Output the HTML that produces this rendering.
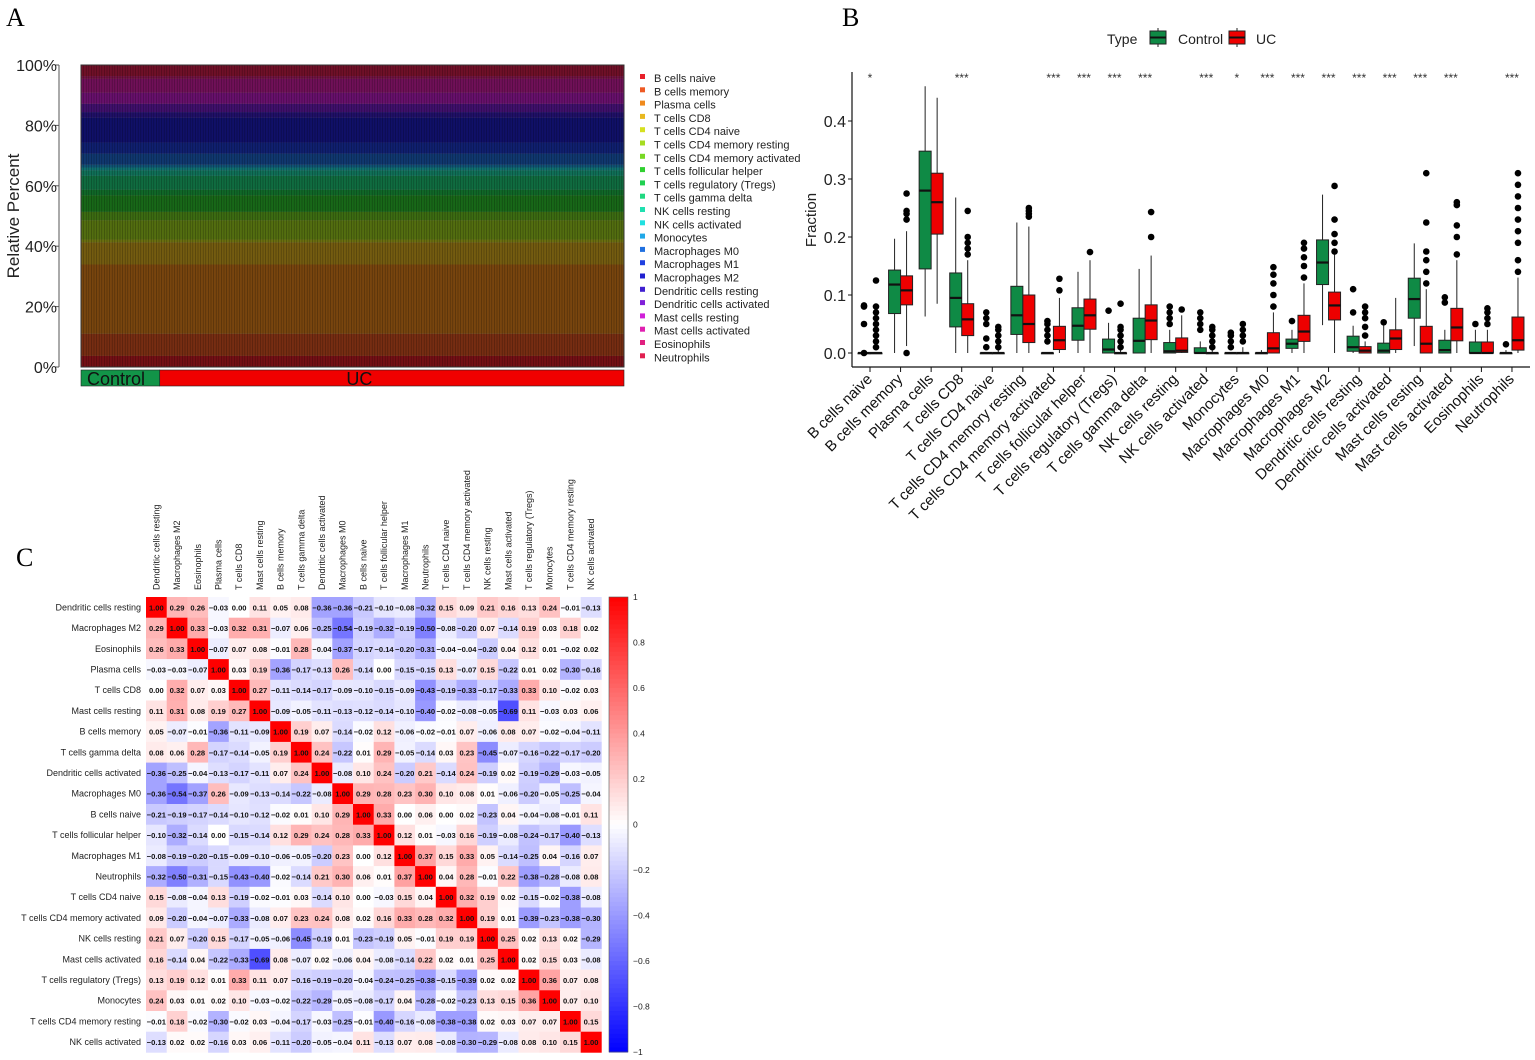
<!DOCTYPE html>
<html><head><meta charset="utf-8"><style>
html,body{margin:0;padding:0;background:#fff;}
svg{display:block;font-family:"Liberation Sans",Arial,sans-serif;}
</style></head><body>
<svg id="fig" width="1535" height="1060" viewBox="0 0 1535 1060" xmlns="http://www.w3.org/2000/svg">
<text x="6" y="26" font-family="Liberation Serif,serif" font-size="26">A</text>
<text x="842" y="26" font-family="Liberation Serif,serif" font-size="26">B</text>
<text x="16" y="566" font-family="Liberation Serif,serif" font-size="26">C</text>
<g id="pa"></g>
<g id="pb"></g>
<g id="pc"></g>
</svg>
<script>
const NS="http://www.w3.org/2000/svg";
function mk(p,tag,at,txt){const e=document.createElementNS(NS,tag);for(const k in at)e.setAttribute(k,at[k]);if(txt!==undefined)e.textContent=txt;p.appendChild(e);return e;}

// ---------- Panel A data ----------
const cellTypes=["B cells naive","B cells memory","Plasma cells","T cells CD8","T cells CD4 naive","T cells CD4 memory resting","T cells CD4 memory activated","T cells follicular helper","T cells regulatory (Tregs)","T cells gamma delta","NK cells resting","NK cells activated","Monocytes","Macrophages M0","Macrophages M1","Macrophages M2","Dendritic cells resting","Dendritic cells activated","Mast cells resting","Mast cells activated","Eosinophils","Neutrophils"];
const cellColors=["#e8202a","#ee5a24","#f08a1c","#e8b820","#d6e020","#a6dc20","#78d824","#30d030","#20d050","#20d880","#20e0b0","#20e0e0","#20a8e8","#2070e0","#2040e0","#2020d0","#4020d0","#8020d8","#d020d8","#e020b0","#e02080","#e02050"];
const meanComposition=[0.04,0.08,0.25,0.08,0.01,0.07,0.03,0.06,0.02,0.05,0.02,0.01,0.01,0.04,0.04,0.09,0.02,0.03,0.04,0.05,0.01,0.04];
const aTicks=["0%","20%","40%","60%","80%","100%"];
const groupLabels=["Control","UC"];
const groupShare=[0.145,0.855];

(function(){
 const g=document.getElementById('pa');
 const x0=81,x1=624,yT=65,yB=367;
 const ya=v=>yB-(yB-yT)*v;
 const tot=meanComposition.reduce((a,b)=>a+b,0);
 let cum=0;
 meanComposition.forEach((v,i)=>{
  const f=v/tot;
  const r=mk(g,'rect',{x:x0,y:ya(cum+f),width:x1-x0,height:ya(cum)-ya(cum+f),fill:cellColors[i]});
  
  
  cum+=f;
 });
 mk(g,'rect',{x:x0,y:yT,width:x1-x0,height:yB-yT,fill:'#000','fill-opacity':0.5});
 // bar edge texture
 let d='';for(let x=x0;x<x1;x+=2.6){d+=`M${x.toFixed(1)} ${yT}V${yB}`;}
 mk(g,'path',{d:d,stroke:'#000','stroke-width':0.6,'stroke-opacity':0.35});
 mk(g,'rect',{x:x0,y:yT,width:x1-x0,height:yB-yT,fill:'none',stroke:'#333','stroke-width':1});
 mk(g,'line',{x1:59,y1:yT,x2:59,y2:yB,stroke:'#555','stroke-width':1});
 aTicks.forEach((t,i)=>{const y=ya(i/5);
  mk(g,'line',{x1:55,y1:y,x2:59,y2:y,stroke:'#555'});
  const e=mk(g,'text',{x:57,y:y+6,'text-anchor':'end','font-size':16,fill:'#222'},t);
  });
 const yt=mk(g,'text',{x:0,y:0,transform:'translate(19,216) rotate(-90)','text-anchor':'middle','font-size':17,fill:'#222'},'Relative Percent');
 
 let gx=x0;
 groupLabels.forEach((lab,i)=>{const w=(x1-x0)*groupShare[i];
  const r=mk(g,'rect',{x:gx,y:370,width:w,height:16,fill:i?'#f00000':'#129448',stroke:'#222','stroke-width':0.6});
  
  const t=mk(g,'text',{x:i?gx+w*0.43:gx+6,y:385,'font-size':18,fill:'#111','text-anchor':i?'middle':'start'},lab);
  
  gx+=w;});
 cellTypes.forEach((c,i)=>{const y=78+i*13.3;
  const le=mk(g,'g',{});
  
  mk(le,'rect',{x:640,y:y-4,width:5,height:5,fill:cellColors[i]});
  mk(le,'text',{x:654,y:y+4,'font-size':11,fill:'#222'},c);});
})();

// ---------- Panel B data ----------
const bCats=cellTypes;
const ctrlQ1=[0,0.068,0.145,0.045,0,0.032,0,0.022,0,0,0,0,0,0,0.008,0.118,0.003,0,0.06,0,0,0];
const ctrlMed=[0,0.118,0.28,0.095,0,0.065,0,0.047,0.006,0.021,0.003,0,0,0,0.016,0.156,0.01,0.004,0.093,0.005,0,0];
const ctrlQ3=[0,0.143,0.348,0.138,0,0.115,0,0.078,0.024,0.06,0.018,0.009,0,0,0.024,0.195,0.029,0.017,0.129,0.022,0.019,0];
const ctrlLo=[0,0,0.063,0,0,0,0,0,0,0,0,0,0,0,0,0.048,0,0,0.012,0,0,0];
const ctrlHi=[0,0.197,0.46,0.268,0,0.225,0,0.14,0.052,0.145,0.04,0.02,0,0.005,0.04,0.273,0.047,0.05,0.189,0.04,0.04,0.005];
const ctrlOut=[[0.08,0.082,0.05,0],[],[],[],[0.07,0.06,0.05,0.025,0.01],[],[0.02,0.03,0.04,0.05,0.055],[],[0.073],[],[0.05,0.06,0.07,0.08],[0.04,0.05,0.06,0.07],[0.01,0.02,0.03,0.035],[],[0.055],[],[0.07,0.11],[0.053],[],[0.087,0.096],[0.05],[0.015]];
const ucQ1=[0,0.083,0.205,0.03,0,0.018,0.006,0.041,0,0.023,0.001,0,0,0,0.02,0.057,0,0.006,0,0.021,0,0.005];
const ucMed=[0,0.108,0.26,0.058,0,0.05,0.022,0.065,0,0.056,0.004,0,0,0.008,0.037,0.082,0.004,0.025,0.016,0.044,0,0.022];
const ucQ3=[0,0.133,0.31,0.085,0,0.1,0.046,0.093,0,0.083,0.026,0,0,0.035,0.065,0.105,0.011,0.04,0.046,0.077,0.019,0.062];
const ucLo=[0,0.012,0.085,0,0,0,0,0,0,0,0,0,0,0,0,0,0,0,0,0,0,0];
const ucHi=[0,0.21,0.44,0.16,0.045,0.218,0.095,0.16,0.045,0.168,0.065,0.045,0.01,0.07,0.12,0.17,0.02,0.095,0.11,0.16,0.04,0.13];
const ucOut=[[0.01,0.02,0.03,0.04,0.05,0.06,0.07,0.08,0.125],[0.23,0.24,0.245,0.275,0],[],[0.17,0.18,0.19,0.2,0.245],[0.01,0.02,0.03,0.04,0.045],[0.235,0.24,0.245,0.25],[0.108,0.128],[0.174],[0.01,0.02,0.03,0.04,0.045,0.085],[0.2,0.243],[0.075],[0.01,0.02,0.03,0.04,0.045],[0.02,0.03,0.04,0.05],[0.08,0.1,0.12,0.135,0.148],[0.13,0.15,0.165,0.18,0.19],[0.175,0.19,0.205,0.23,0.288],[0.03,0.045,0.06,0.07,0.08],[],[0.12,0.14,0.16,0.175,0.225,0.31],[0.17,0.2,0.22,0.255,0.26],[0.05,0.06,0.07,0.077],[0.14,0.16,0.19,0.21,0.23,0.25,0.27,0.29,0.31]];
const sigLabels=["*","","","***","","","***","***","***","***","","***","*","***","***","***","***","***","***","***","","***"];
const bTicks=[0,0.1,0.2,0.3,0.4];

(function(){
 const g=document.getElementById('pb');
 const yb=v=>353-580*v;
 const xc=i=>870+i*30.57;
 mk(g,'line',{x1:852,y1:72,x2:852,y2:367,stroke:'#111','stroke-width':1.2});
 mk(g,'line',{x1:852,y1:367,x2:1530,y2:367,stroke:'#111','stroke-width':1.2});
 bTicks.forEach(t=>{const y=yb(t);
  mk(g,'line',{x1:848,y1:y,x2:852,y2:y,stroke:'#111'});
  const e=mk(g,'text',{x:846,y:y+6,'text-anchor':'end','font-size':16,fill:'#222'},t.toFixed(1));
  });
 const ft=mk(g,'text',{x:0,y:0,transform:'translate(816,220) rotate(-90)','text-anchor':'middle','font-size':15,fill:'#222'},'Fraction');
 
 function box(i,off,q1,md,q3,lo,hi,out,col,nm){
  const cx=xc(i)+off,w=12;
  const bg=mk(g,'g',{});
  
  mk(bg,'line',{x1:cx,y1:yb(lo),x2:cx,y2:yb(hi),stroke:'#222','stroke-width':1});
  mk(bg,'rect',{x:cx-w/2,y:yb(q3),width:w,height:Math.max(0.8,yb(q1)-yb(q3)),fill:col,stroke:'#222','stroke-width':1});
  mk(bg,'line',{x1:cx-w/2,y1:yb(md),x2:cx+w/2,y2:yb(md),stroke:'#111','stroke-width':2.2});
  out.forEach(o=>mk(bg,'circle',{cx:cx,cy:yb(o),r:3.3,fill:'#000'}));
 }
 bCats.forEach((c,i)=>{
  box(i,-6,ctrlQ1[i],ctrlMed[i],ctrlQ3[i],ctrlLo[i],ctrlHi[i],ctrlOut[i],'#0f8a45','box-control');
  box(i,6,ucQ1[i],ucMed[i],ucQ3[i],ucLo[i],ucHi[i],ucOut[i],'#ee0000','box-uc');
  const x=xc(i);
  mk(g,'line',{x1:x,y1:367,x2:x,y2:372,stroke:'#111'});
  const t=mk(g,'text',{x:0,y:0,transform:`translate(${x+3},${380}) rotate(-45)`,'text-anchor':'end','font-size':15,fill:'#111'},c);
  
  if(sigLabels[i]){const s=mk(g,'text',{x:x,y:82,'text-anchor':'middle','font-size':12,fill:'#333'},sigLabels[i]);
   }
 });
 const lg=mk(g,'g',{});
 
 mk(lg,'text',{x:1107,y:44,'font-size':14,fill:'#222'},'Type');
 [['Control','#0f8a45',1150,1178],['UC','#ee0000',1229,1256]].forEach(a=>{
  mk(lg,'line',{x1:a[2]+8,y1:28,x2:a[2]+8,y2:47,stroke:'#222'});
  mk(lg,'rect',{x:a[2],y:31,width:16,height:13,fill:a[1],stroke:'#222'});
  mk(lg,'line',{x1:a[2],y1:37.5,x2:a[2]+16,y2:37.5,stroke:'#111','stroke-width':2});
  mk(lg,'text',{x:a[3],y:44,'font-size':14,fill:'#222'},a[0]);});
})();

// ---------- Panel C data ----------
const hmLabels=["Dendritic cells resting","Macrophages M2","Eosinophils","Plasma cells","T cells CD8","Mast cells resting","B cells memory","T cells gamma delta","Dendritic cells activated","Macrophages M0","B cells naive","T cells follicular helper","Macrophages M1","Neutrophils","T cells CD4 naive","T cells CD4 memory activated","NK cells resting","Mast cells activated","T cells regulatory (Tregs)","Monocytes","T cells CD4 memory resting","NK cells activated"];
const corrMatrix=[
[1,0.29,0.26,-0.03,0.00,0.11,0.05,0.08,-0.36,-0.36,-0.21,-0.10,-0.08,-0.32,0.15,0.09,0.21,0.16,0.13,0.24,-0.01,-0.13],
[0.29,1,0.33,-0.03,0.32,0.31,-0.07,0.06,-0.25,-0.54,-0.19,-0.32,-0.19,-0.50,-0.08,-0.20,0.07,-0.14,0.19,0.03,0.18,0.02],
[0.26,0.33,1,-0.07,0.07,0.08,-0.01,0.28,-0.04,-0.37,-0.17,-0.14,-0.20,-0.31,-0.04,-0.04,-0.20,0.04,0.12,0.01,-0.02,0.02],
[-0.03,-0.03,-0.07,1,0.03,0.19,-0.36,-0.17,-0.13,0.26,-0.14,0.00,-0.15,-0.15,0.13,-0.07,0.15,-0.22,0.01,0.02,-0.30,-0.16],
[0.00,0.32,0.07,0.03,1,0.27,-0.11,-0.14,-0.17,-0.09,-0.10,-0.15,-0.09,-0.43,-0.19,-0.33,-0.17,-0.33,0.33,0.10,-0.02,0.03],
[0.11,0.31,0.08,0.19,0.27,1,-0.09,-0.05,-0.11,-0.13,-0.12,-0.14,-0.10,-0.40,-0.02,-0.08,-0.05,-0.69,0.11,-0.03,0.03,0.06],
[0.05,-0.07,-0.01,-0.36,-0.11,-0.09,1,0.19,0.07,-0.14,-0.02,0.12,-0.06,-0.02,-0.01,0.07,-0.06,0.08,0.07,-0.02,-0.04,-0.11],
[0.08,0.06,0.28,-0.17,-0.14,-0.05,0.19,1,0.24,-0.22,0.01,0.29,-0.05,-0.14,0.03,0.23,-0.45,-0.07,-0.16,-0.22,-0.17,-0.20],
[-0.36,-0.25,-0.04,-0.13,-0.17,-0.11,0.07,0.24,1,-0.08,0.10,0.24,-0.20,0.21,-0.14,0.24,-0.19,0.02,-0.19,-0.29,-0.03,-0.05],
[-0.36,-0.54,-0.37,0.26,-0.09,-0.13,-0.14,-0.22,-0.08,1,0.29,0.28,0.23,0.30,0.10,0.08,0.01,-0.06,-0.20,-0.05,-0.25,-0.04],
[-0.21,-0.19,-0.17,-0.14,-0.10,-0.12,-0.02,0.01,0.10,0.29,1,0.33,0.00,0.06,0.00,0.02,-0.23,0.04,-0.04,-0.08,-0.01,0.11],
[-0.10,-0.32,-0.14,0.00,-0.15,-0.14,0.12,0.29,0.24,0.28,0.33,1,0.12,0.01,-0.03,0.16,-0.19,-0.08,-0.24,-0.17,-0.40,-0.13],
[-0.08,-0.19,-0.20,-0.15,-0.09,-0.10,-0.06,-0.05,-0.20,0.23,0.00,0.12,1,0.37,0.15,0.33,0.05,-0.14,-0.25,0.04,-0.16,0.07],
[-0.32,-0.50,-0.31,-0.15,-0.43,-0.40,-0.02,-0.14,0.21,0.30,0.06,0.01,0.37,1,0.04,0.28,-0.01,0.22,-0.38,-0.28,-0.08,0.08],
[0.15,-0.08,-0.04,0.13,-0.19,-0.02,-0.01,0.03,-0.14,0.10,0.00,-0.03,0.15,0.04,1,0.32,0.19,0.02,-0.15,-0.02,-0.38,-0.08],
[0.09,-0.20,-0.04,-0.07,-0.33,-0.08,0.07,0.23,0.24,0.08,0.02,0.16,0.33,0.28,0.32,1,0.19,0.01,-0.39,-0.23,-0.38,-0.30],
[0.21,0.07,-0.20,0.15,-0.17,-0.05,-0.06,-0.45,-0.19,0.01,-0.23,-0.19,0.05,-0.01,0.19,0.19,1,0.25,0.02,0.13,0.02,-0.29],
[0.16,-0.14,0.04,-0.22,-0.33,-0.69,0.08,-0.07,0.02,-0.06,0.04,-0.08,-0.14,0.22,0.02,0.01,0.25,1,0.02,0.15,0.03,-0.08],
[0.13,0.19,0.12,0.01,0.33,0.11,0.07,-0.16,-0.19,-0.20,-0.04,-0.24,-0.25,-0.38,-0.15,-0.39,0.02,0.02,1,0.36,0.07,0.08],
[0.24,0.03,0.01,0.02,0.10,-0.03,-0.02,-0.22,-0.29,-0.05,-0.08,-0.17,0.04,-0.28,-0.02,-0.23,0.13,0.15,0.36,1,0.07,0.10],
[-0.01,0.18,-0.02,-0.30,-0.02,0.03,-0.04,-0.17,-0.03,-0.25,-0.01,-0.40,-0.16,-0.08,-0.38,-0.38,0.02,0.03,0.07,0.07,1,0.15],
[-0.13,0.02,0.02,-0.16,0.03,0.06,-0.11,-0.20,-0.05,-0.04,0.11,-0.13,0.07,0.08,-0.08,-0.30,-0.29,-0.08,0.08,0.10,0.15,1]];
const cbTicks=[1,0.8,0.6,0.4,0.2,0,-0.2,-0.4,-0.6,-0.8,-1];

(function(){
 const g=document.getElementById('pc');
 const x0=146,y0=597,cs=20.7,n=hmLabels.length;
 function col(v){const a=Math.min(1,Math.abs(v));const c=Math.round(255*(1-a));
  return v>=0?`rgb(255,${c},${c})`:`rgb(${c},${c},255)`;}
 corrMatrix.forEach((row,r)=>row.forEach((v,c)=>{
  const cell=mk(g,'rect',{x:x0+c*cs,y:y0+r*cs,width:cs+0.3,height:cs+0.3,fill:col(v)});
  
  const t=mk(g,'text',{x:x0+c*cs+cs/2,y:y0+r*cs+cs/2+3,'text-anchor':'middle','font-size':7.6,'font-weight':'bold',fill:'#111'},v.toFixed(2).replace('-','\u2212'));
  
 }));
 hmLabels.forEach((l,i)=>{
  const rl=mk(g,'text',{x:141,y:y0+i*cs+cs/2+3,'text-anchor':'end','font-size':9,fill:'#222'},l);
  
  const cx=x0+i*cs+cs/2+3;
  const cl=mk(g,'text',{x:0,y:0,transform:`translate(${cx},590) rotate(-90)`,'font-size':9,fill:'#222'},l);
  
 });
 const cb=mk(g,'g',{});
 
 const cbT=597,cbB=1052,cbH=cbB-cbT;
 for(let k=0;k<100;k++){const v=1-2*(k+0.5)/100;
  mk(cb,'rect',{x:609,y:cbT+k*cbH/100,width:19,height:cbH/100+0.5,fill:col(v)});}
 mk(cb,'rect',{x:609,y:cbT,width:19,height:cbH,fill:'none',stroke:'#555','stroke-width':0.6});
 cbTicks.forEach(t=>{const y=cbT+(1-t)/2*cbH;
  const e=mk(cb,'text',{x:633,y:y+3,'font-size':8.5,fill:'#222'},(t<0?'\u2212':'')+Math.abs(t));
  });
})();
</script>
</body></html>
